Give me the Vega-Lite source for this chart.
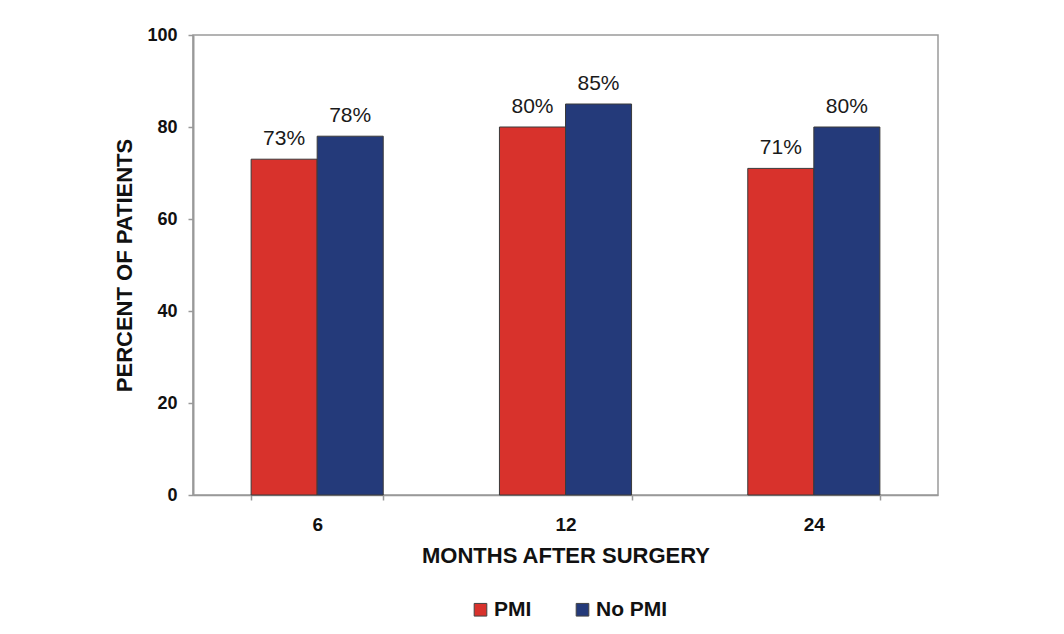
{
  "$schema": "https://vega.github.io/schema/vega-lite/v6.json",
  "width": 745,
  "height": 460,
  "autosize": {"type": "none"},
  "padding": {"left": 193, "top": 35, "right": 126, "bottom": 139},
  "background": "white",
  "config": {
    "font": "Liberation Sans",
    "view": {"stroke": "#9a9a9a", "strokeWidth": 1.5}
  },
  "data": {
    "values": [
      {"month": "6", "group": "PMI", "percent": 73, "label": "73%"},
      {"month": "6", "group": "No PMI", "percent": 78, "label": "78%"},
      {"month": "12", "group": "PMI", "percent": 80, "label": "80%"},
      {"month": "12", "group": "No PMI", "percent": 85, "label": "85%"},
      {"month": "24", "group": "PMI", "percent": 71, "label": "71%"},
      {"month": "24", "group": "No PMI", "percent": 80, "label": "80%"}
    ]
  },
  "encoding": {
    "x": {
      "field": "month",
      "type": "nominal",
      "sort": ["6", "12", "24"],
      "scale": {"paddingInner": 0.468, "paddingOuter": 0.234},
      "axis": {
        "title": "MONTHS AFTER SURGERY",
        "labelAngle": 0,
        "labelFontSize": 19,
        "labelFontWeight": "bold",
        "labelColor": "#111",
        "labelPadding": 15,
        "tickBand": "extent",
        "tickSize": 5,
        "tickColor": "#999",
        "tickWidth": 1.5,
        "domainColor": "#999",
        "domainWidth": 1.5,
        "titleFontSize": 22,
        "titleFontWeight": "bold",
        "titleColor": "#111",
        "titlePadding": 11
      }
    },
    "xOffset": {"field": "group", "type": "nominal", "sort": ["PMI", "No PMI"], "scale": {"paddingInner": 0, "paddingOuter": 0}},
    "y": {
      "field": "percent",
      "type": "quantitative",
      "scale": {"domain": [0, 100]},
      "axis": {
        "title": "PERCENT OF PATIENTS",
        "values": [0, 20, 40, 60, 80, 100],
        "grid": false,
        "labelFontSize": 18,
        "labelFontWeight": "bold",
        "labelColor": "#111",
        "labelPadding": 11,
        "tickSize": 5,
        "tickColor": "#999",
        "tickWidth": 1.5,
        "domainColor": "#999",
        "domainWidth": 2,
        "titleFontSize": 22,
        "titleFontWeight": "bold",
        "titleColor": "#111",
        "titlePadding": 10
      }
    }
  },
  "layer": [
    {
      "mark": {"type": "bar", "stroke": "#3a3a3a", "strokeWidth": 1},
      "encoding": {
        "color": {
          "field": "group",
          "type": "nominal",
          "sort": ["PMI", "No PMI"],
          "scale": {"domain": ["PMI", "No PMI"], "range": ["#d8322c", "#243a7a"]},
          "legend": {
            "title": null,
            "orient": "none",
            "legendX": 277,
            "legendY": 564,
            "direction": "horizontal",
            "symbolType": "square",
            "symbolSize": 160,
            "symbolStrokeColor": "#444",
            "symbolStrokeWidth": 1,
            "symbolOpacity": 1,
            "labelFontSize": 21,
            "labelFontWeight": "bold",
            "labelColor": "#111",
            "columnPadding": 40,
            "labelOffset": 3
          }
        }
      }
    },
    {
      "mark": {"type": "text", "baseline": "alphabetic", "dy": -14, "fontSize": 21, "color": "#1a1a1a"},
      "encoding": {"text": {"field": "label"}}
    }
  ]
}
